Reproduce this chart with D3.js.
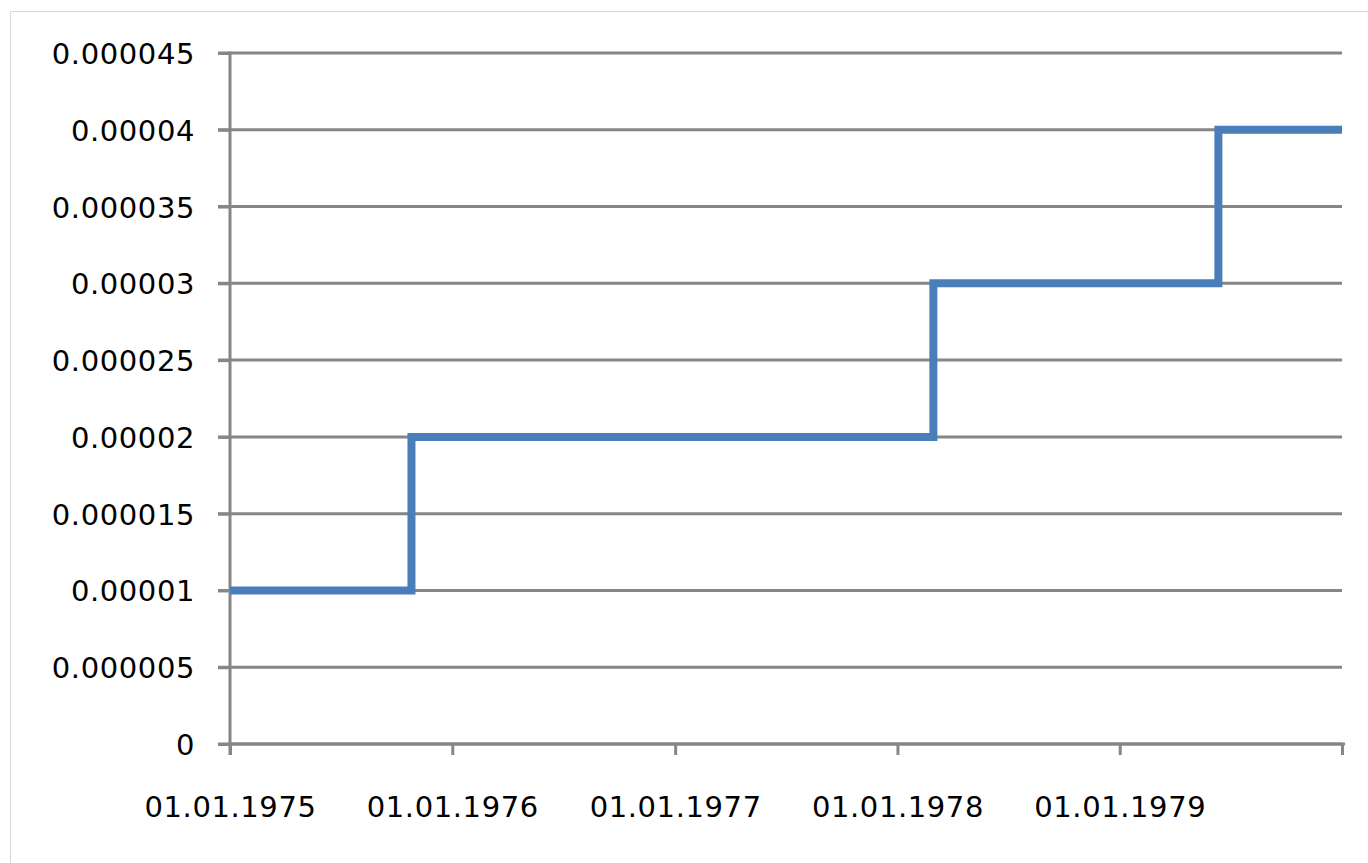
<!DOCTYPE html>
<html>
<head>
<meta charset="utf-8">
<script src="https://cdn.jsdelivr.net/npm/d3@7"></script>
<style>
  body { margin: 0; background: #fff; }
</style>
</head>
<body>
<svg id="chart"></svg>
<script>
// step dates and values
var stepDates = ["1975-01-01", "1975-10-26", "1978-03-01", "1979-06-12", "1980-01-01"];
var stepValues = [0.00001, 0.00002, 0.00003, 0.00004, 0.00004];
var yTicks = [0, 0.000005, 0.00001, 0.000015, 0.00002, 0.000025, 0.00003, 0.000035, 0.00004, 0.000045];
var yTickLabels = ["0", "0.000005", "0.00001", "0.000015", "0.00002", "0.000025", "0.00003", "0.000035", "0.00004", "0.000045"];
var xTickDates = ["1975-01-01", "1976-01-01", "1977-01-01", "1978-01-01", "1979-01-01", "1980-01-01"];
var xTickLabels = ["01.01.1975", "01.01.1976", "01.01.1977", "01.01.1978", "01.01.1979", ""];

function draw() {
  var margins = { left: 230, right: 26, top: 53, bottom: 119 };
  var W = 1368, H = 863;
  var width = W - margins.left - margins.right;
  var height = H - margins.top - margins.bottom;
  var parse = d3.timeParse("%Y-%m-%d");
  var gridColor = "#868686";
  var font = "'DejaVu Sans', Verdana, sans-serif";

  var svg = d3.select("#chart")
    .attr("width", W)
    .attr("height", H);

  // chart area frame
  svg.append("rect")
    .attr("x", 10.5).attr("y", 11.5)
    .attr("width", 1500).attr("height", 1000)
    .attr("fill", "#fff")
    .attr("stroke", "#d9d9d9")
    .attr("stroke-width", 1);

  var plot = svg.append("g")
    .attr("transform", "translate(" + margins.left + "," + margins.top + ")");

  var xScale = d3.scaleTime()
    .domain([parse(xTickDates[0]), parse(xTickDates[xTickDates.length - 1])])
    .range([0, width]);

  var yScale = d3.scaleLinear()
    .domain([0, 0.000045])
    .range([height, 0]);

  // horizontal gridlines
  plot.append("g")
    .selectAll("line")
    .data(yTicks)
    .enter()
    .append("line")
    .attr("x1", -12)
    .attr("x2", width)
    .attr("y1", function(d) { return yScale(d); })
    .attr("y2", function(d) { return yScale(d); })
    .attr("stroke", gridColor)
    .attr("stroke-width", 3);

  var yAxis = d3.axisLeft(yScale)
    .tickValues(yTicks)
    .tickSize(12)
    .tickPadding(23)
    .tickFormat(function(d, i) { return yTickLabels[i]; });

  var gy = plot.append("g").call(yAxis)
    .attr("font-family", font)
    .attr("font-size", 29);
  gy.select(".domain").remove();
  gy.selectAll(".tick line").attr("stroke", gridColor).attr("stroke-width", 3);
  gy.selectAll(".tick text")
    .attr("fill", "#000")
    .attr("letter-spacing", 0.6)
    .attr("dy", "0.36em");
  gy.append("line")
    .attr("x1", 0).attr("x2", 0)
    .attr("y1", -1.5).attr("y2", height + 11)
    .attr("stroke", gridColor)
    .attr("stroke-width", 3);

  var xAxis = d3.axisBottom(xScale)
    .tickValues(xTickDates.map(parse))
    .tickSize(11)
    .tickPadding(41)
    .tickFormat(function(d, i) { return xTickLabels[i]; });

  var gx = plot.append("g")
    .attr("transform", "translate(0," + height + ")")
    .call(xAxis)
    .attr("font-family", font)
    .attr("font-size", 29);
  gx.select(".domain").remove();
  gx.selectAll(".tick line").attr("stroke", gridColor).attr("stroke-width", 3);
  gx.selectAll(".tick text")
    .attr("fill", "#000")
    .attr("letter-spacing", 0.6);
  gx.append("line")
    .attr("x1", -1.5).attr("x2", width + 3)
    .attr("y1", 0).attr("y2", 0)
    .attr("stroke", gridColor)
    .attr("stroke-width", 3);

  var points = stepDates.map(function(d, i) {
    return { date: parse(d), value: stepValues[i] };
  });

  // value holds until the next date, then steps up
  var stepLine = d3.line()
    .x(function(d) { return xScale(d.date); })
    .y(function(d) { return yScale(d.value); })
    .curve(d3.curveStepAfter);

  plot.append("path")
    .datum(points)
    .attr("d", stepLine)
    .attr("fill", "none")
    .attr("stroke", "#4a7ebb")
    .attr("stroke-width", 8)
    .attr("stroke-linejoin", "miter");
}

draw();
</script>
</body>
</html>
